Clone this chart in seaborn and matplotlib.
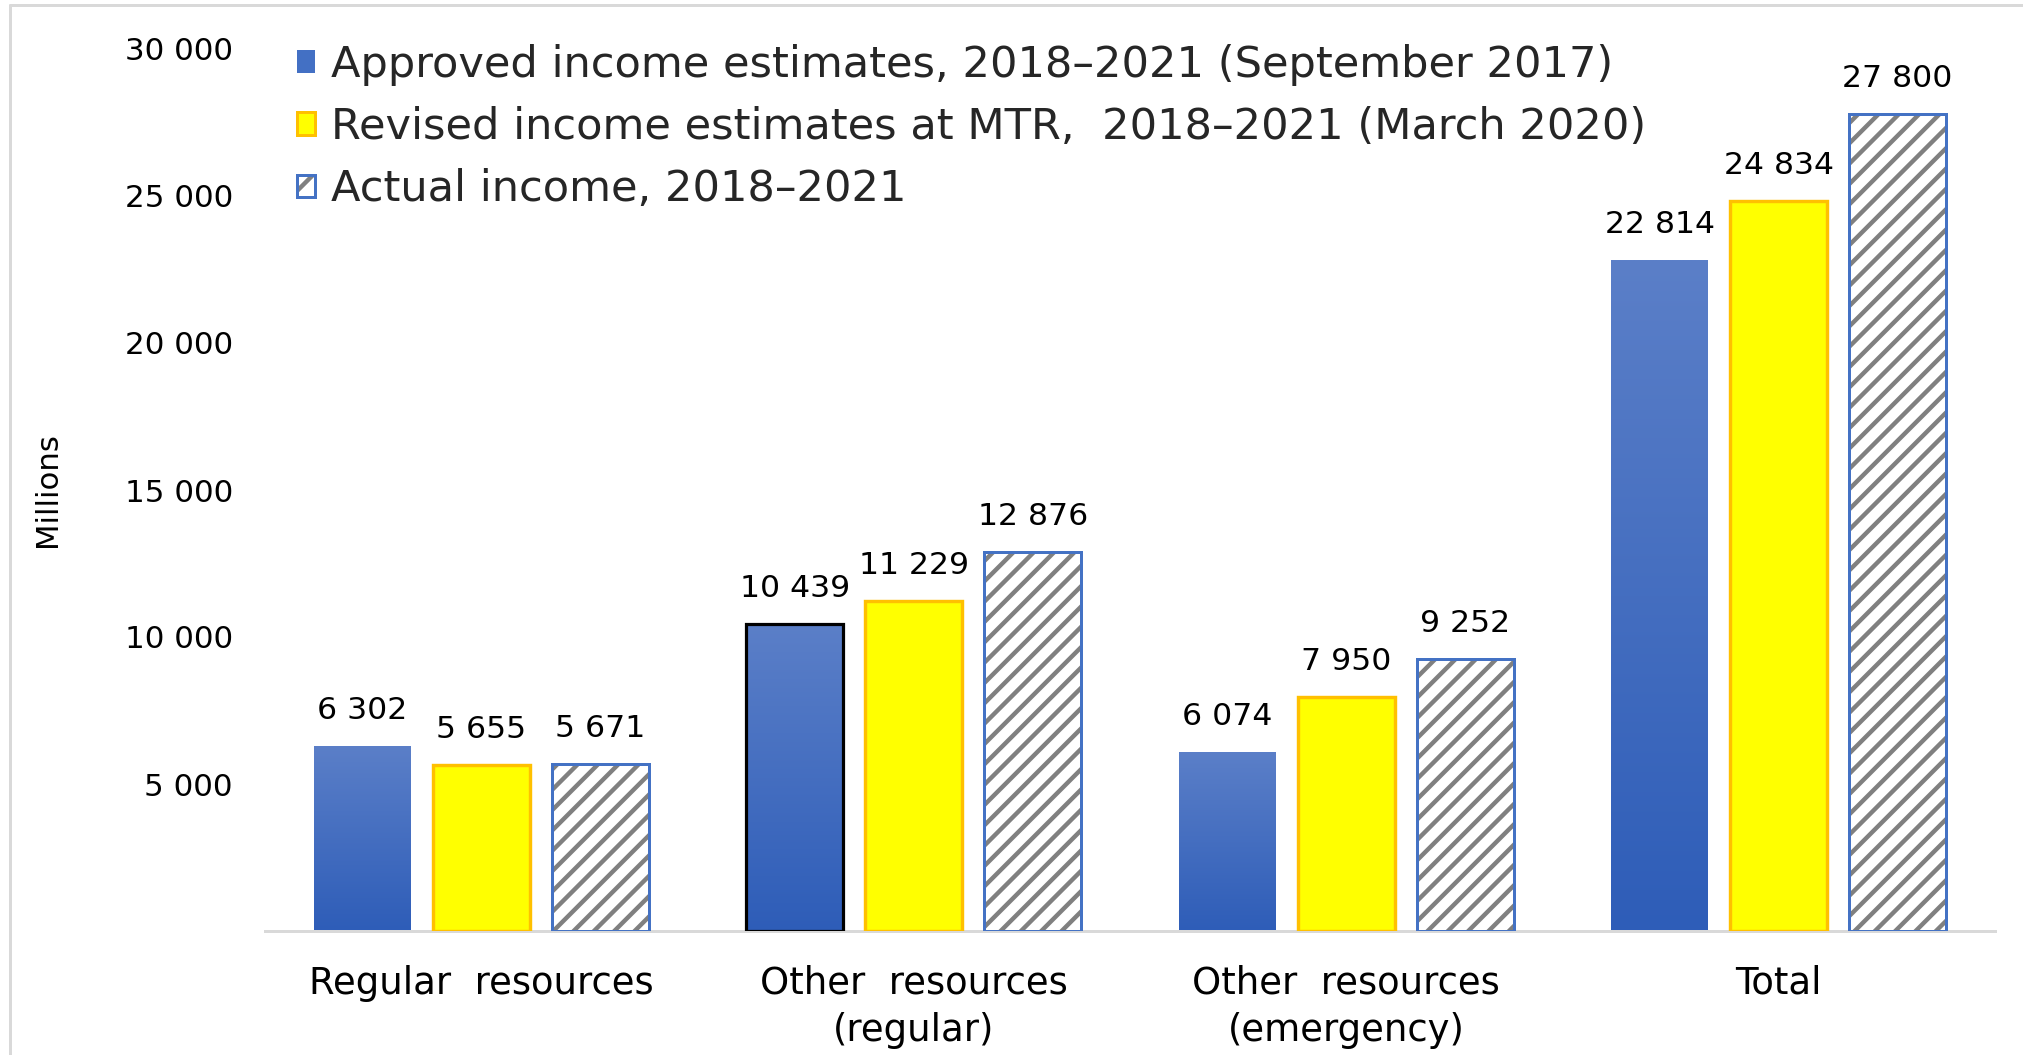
import numpy as np
import pandas as pd
import matplotlib
matplotlib.use("Agg")
import matplotlib.pyplot as plt
from matplotlib.patches import Patch, Rectangle
from matplotlib.lines import Line2D
from matplotlib.legend_handler import HandlerTuple
from matplotlib.colors import LinearSegmentedColormap
import seaborn as sns

# ---- data -------------------------------------------------------------
categories = ["Regular  resources", "Other  resources\n(regular)",
              "Other  resources\n(emergency)", "Total"]
series = ["Approved income estimates, 2018\u20132021 (September 2017)",
          "Revised income estimates at MTR,  2018\u20132021 (March 2020)",
          "Actual income, 2018\u20132021"]
approved = [6302, 10439, 6074, 22814]
revised = [5655, 11229, 7950, 24834]
actual = [5671, 12876, 9252, 27800]
y_ticks = [5000, 10000, 15000, 20000, 25000, 30000]

# ---- figure setup -------------------------------------------------------
DPI = 122
W, H = 2023, 1055


def pt(px):
    """pixels -> points at the figure resolution"""
    return px * 72.0 / DPI


sns.set_style("white")
plt.rcParams["font.family"] = ["DejaVu Sans"]
plt.rcParams["hatch.linewidth"] = pt(4.4)

fig = plt.figure(figsize=(W / DPI, H / DPI), dpi=DPI)
ax = fig.add_axes([265 / W, 1 - 931 / H, (1995 - 265) / W, (931 - 49) / H])

df = pd.DataFrame({
    "category": np.repeat(categories, 3),
    "series": series * len(categories),
    "value": [v for trio in zip(approved, revised, actual) for v in trio],
})

sns.barplot(data=df, x="category", y="value", hue="series",
            order=categories, hue_order=series,
            width=0.825, gap=0.185, errorbar=None, legend=False,
            ax=ax, zorder=2)

BLUE_EDGE = "#4472C4"
YELLOW = "#FFFF00"
ORANGE = "#FFC000"
HATCH_GREY = "#808080"
HATCH = "//"
grad = LinearSegmentedColormap.from_list("bluegrad", ["#2E5DB8", "#5B7FC8"])
gradient = np.linspace(0, 1, 256).reshape(-1, 1)

approved_bars, revised_bars, actual_bars = ax.containers[:3]

# approved: vertical blue gradient, darker toward the base
for i, bar in enumerate(approved_bars):
    x0, w, h = bar.get_x(), bar.get_width(), bar.get_height()
    edge = "black" if i == 1 else "none"
    bar.set_facecolor("none")
    bar.set_edgecolor(edge)
    bar.set_linewidth(pt(3.2) if i == 1 else 0)
    bar.set_zorder(3)
    img = ax.imshow(gradient, extent=(x0, x0 + w, 0, h), origin="lower",
                    cmap=grad, aspect="auto", zorder=2.5)
    img.set_clip_path(bar)

# revised: yellow with orange outline
for bar in revised_bars:
    bar.set_facecolor(YELLOW)
    bar.set_edgecolor(ORANGE)
    bar.set_linewidth(pt(3.4))
    bar.set_zorder(3)

# actual: grey diagonal hatch on white with a blue outline
for bar in actual_bars:
    bar.set_facecolor("white")
    bar.set_edgecolor(HATCH_GREY)
    bar.set_hatch(HATCH)
    bar.set_linewidth(0)
    bar.set_zorder(3)
    ax.add_patch(Rectangle((bar.get_x(), 0), bar.get_width(), bar.get_height(),
                           facecolor="none", edgecolor=BLUE_EDGE,
                           linewidth=pt(3), zorder=3.5))

# value labels
for cont in (approved_bars, revised_bars, actual_bars):
    ax.bar_label(cont, labels=[f"{v.get_height():,.0f}".replace(",", " ")
                               for v in cont],
                 padding=pt(21), fontsize=pt(31.5), color="#000000")

# ---- axes styling ------------------------------------------------------
ax.set_xlim(-0.5, 3.5)
ax.set_ylim(0, 30000)
ax.set_yticks(y_ticks)
ax.set_yticklabels([f"{t:,}".replace(",", " ") for t in y_ticks])
ax.tick_params(axis="y", length=0, pad=pt(32), labelsize=pt(31),
               labelcolor="#000000")
ax.tick_params(axis="x", length=0, pad=pt(34), labelsize=pt(37),
               labelcolor="#000000")
for lab in ax.get_xticklabels():
    lab.set_linespacing(1.36)
ax.set_xlabel("")
ax.set_ylabel("Millions", fontsize=pt(30.8), color="#000000")
ax.yaxis.set_label_coords(-0.1173, 0.5)

for side in ("top", "right", "left"):
    ax.spines[side].set_visible(False)
ax.spines["bottom"].set_color("#D9D9D9")
ax.spines["bottom"].set_linewidth(pt(3))
ax.grid(False)

# ---- legend ------------------------------------------------------------
h_blue = Patch(facecolor="#4370C4", edgecolor="none")
h_yellow = Patch(facecolor=YELLOW, edgecolor=ORANGE, linewidth=pt(3))
h_hatch = Patch(facecolor="white", edgecolor=HATCH_GREY, hatch="/", linewidth=0)
h_outline = Patch(facecolor="none", edgecolor=BLUE_EDGE, linewidth=pt(3))
ax.legend([h_blue, h_yellow, (h_hatch, h_outline)], series,
          handler_map={tuple: HandlerTuple(ndivide=1, pad=0)},
          loc="upper left", bbox_to_anchor=(297 / W, 1 - 44 / H),
          bbox_transform=fig.transFigure, frameon=False,
          fontsize=pt(43.2), handlelength=0.42, handleheight=0.42,
          handletextpad=0.37, labelspacing=0.465, borderpad=0,
          borderaxespad=0)

# thin frame around the chart area
fig.add_artist(Line2D([10 / W, 10 / W], [0, 1 - 5 / H], transform=fig.transFigure,
                      color="#D9D9D9", linewidth=pt(3)))
fig.add_artist(Line2D([10 / W, 1], [1 - 5 / H, 1 - 5 / H], transform=fig.transFigure,
                      color="#D9D9D9", linewidth=pt(3)))

fig.savefig("out.png", dpi=DPI, facecolor="white")
